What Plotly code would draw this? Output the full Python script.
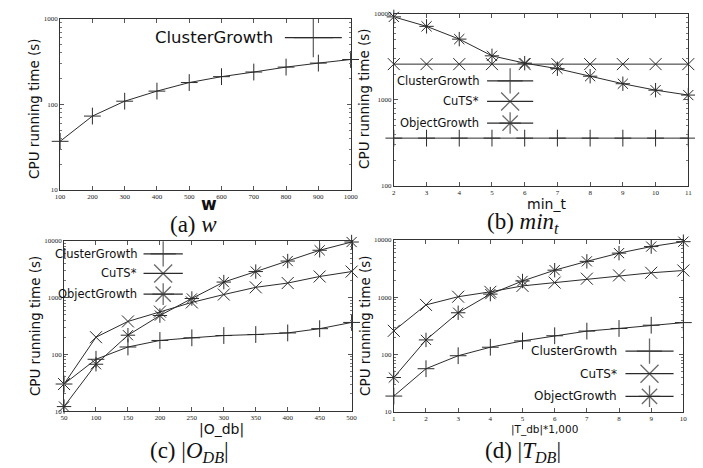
import plotly.graph_objects as go

W, H = 703, 468

# ---------------- data ----------------
w_vals = [100, 200, 300, 400, 500, 600, 700, 800, 900, 1000]
a_cluster = [37, 73, 109, 143, 180, 211, 239, 273, 304, 335]

mint_vals = [2, 3, 4, 5, 6, 7, 8, 9, 10, 11]
b_cluster = [360, 360, 360, 360, 360, 360, 360, 360, 360, 360]
b_cuts = [2610, 2610, 2610, 2610, 2610, 2610, 2610, 2610, 2610, 2610]
b_object = [9250, 7180, 5100, 3260, 2680, 2310, 1890, 1545, 1300, 1140]

odb_vals = [50, 100, 150, 200, 250, 300, 350, 400, 450, 500]
c_cluster = [30, 82, 135, 176, 196, 215, 224, 239, 284, 366]
c_cuts = [30, 201, 381, 568, 826, 1137, 1524, 1813, 2366, 2890]
c_object = [12, 67, 218, 484, 968, 1887, 2890, 4430, 6870, 9600]

tdb_vals = [1, 2, 3, 4, 5, 6, 7, 8, 9, 10]
d_cluster = [19, 57, 96, 135, 174, 214, 258, 287, 327, 363]
d_cuts = [261, 739, 1026, 1250, 1585, 1808, 2118, 2415, 2683, 2942]
d_object = [40, 181, 539, 1140, 1931, 2979, 4250, 5910, 7690, 9360]

series_names = ["ClusterGrowth", "CuTS*", "ObjectGrowth"]
x_titles = ["<b>w</b>", "min_t", "|O_db|", "|T_db|*1,000"]
y_title = "CPU running time (s)"
captions = ["(a) <i>w</i>", "(b) <i>min</i><sub><i>t</i></sub>",
            "(c) |<i>O</i><sub><i>DB</i></sub>|", "(d) |<i>T</i><sub><i>DB</i></sub>|"]

# ---------------- styling ----------------
INK = "#2b2b2b"
SYMS = {"ClusterGrowth": "cross-thin", "CuTS*": "x-thin", "ObjectGrowth": "asterisk-open"}
SANS = "DejaVu Sans, Verdana, sans-serif"
SERIF = "Liberation Serif, DejaVu Serif, serif"

# plot boxes in pixels: (x0, x1, ytop, ybottom)
boxes = [(48, 344, 7, 181), (388, 688, 2, 177), (52, 345, 233, 406), (388, 683, 232, 407)]
yranges = [(1, 3), (2, 4), (1, 4), (1, 4)]

fig = go.Figure()


def px_dom_x(a, b):
    return [a / W, b / W]


def px_dom_y(top, bot):
    return [1 - bot / H, 1 - top / H]


panels = [
    (w_vals, [("ClusterGrowth", a_cluster)], list(range(100, 1001, 100))),
    (mint_vals, [("ClusterGrowth", b_cluster), ("CuTS*", b_cuts), ("ObjectGrowth", b_object)], mint_vals),
    (odb_vals, [("ClusterGrowth", c_cluster), ("CuTS*", c_cuts), ("ObjectGrowth", c_object)], odb_vals),
    (tdb_vals, [("ClusterGrowth", d_cluster), ("CuTS*", d_cuts), ("ObjectGrowth", d_object)], tdb_vals),
]

minor_vals = [m * 10 ** e for e in range(0, 5) for m in range(2, 10)]

for i, (xs, sers, xt) in enumerate(panels):
    k = i + 1
    xa = "x" if k == 1 else f"x{k}"
    ya = "y" if k == 1 else f"y{k}"
    x0, x1, yt, yb = boxes[i]
    for name, ys in sers:
        fig.add_trace(go.Scatter(
            x=xs, y=ys, xaxis=xa, yaxis=ya, mode="lines+markers", showlegend=False,
            line=dict(color=INK, width=1),
            marker=dict(symbol=SYMS[name], size=12, color=INK, line=dict(color=INK, width=1)),
            cliponaxis=False,
        ))
    ax_common = dict(showgrid=False, zeroline=False, showline=True, linecolor="#333", linewidth=1,
                     mirror="ticks", ticks="inside", ticklen=4, tickcolor="#555",
                     tickfont=dict(family=SERIF, size=7, color="#222"))
    lo, hi = yranges[i]
    fig.layout[("xaxis" if k == 1 else f"xaxis{k}")] = dict(
        domain=px_dom_x(x0, x1), anchor=ya, range=[xs[0], xs[-1]], tickvals=xt, **ax_common)
    fig.layout[("yaxis" if k == 1 else f"yaxis{k}")] = dict(
        domain=px_dom_y(yt, yb), anchor=xa, type="log", range=[lo, hi],
        tickvals=[10 ** e for e in range(lo, hi + 1)],
        ticktext=[str(10 ** e) for e in range(lo, hi + 1)],
        minor=dict(ticks="inside", ticklen=2, tickcolor="#777",
                   tickvals=[v for v in minor_vals if 10 ** lo < v < 10 ** hi]),
        **ax_common)

# overlay pixel-coordinate axes for custom legends
fig.layout["xaxis5"] = dict(domain=[0, 1], range=[0, W], visible=False, fixedrange=True, anchor="y5")
fig.layout["yaxis5"] = dict(domain=[0, 1], range=[H, 0], visible=False, fixedrange=True, anchor="x5")

# legend spec: (text right edge, line x0, line x1, row ys, font size, marker size, names)
legends = [
    (267, 277, 335, [26], 16.5, 28, ["ClusterGrowth"], SANS),
    (477, 483, 530, [70, 91, 113], 11.5, 18, series_names, SANS),
    (128, 133, 173, [246, 266, 287], 11.5, 18, series_names, SANS),
    (617, 624, 673, [345, 368, 391], 12, 18, series_names, SANS),
]
annotations = []
for (tx, lx0, lx1, rows, fs, ms, names, fam) in legends:
    for yy, name in zip(rows, names):
        xm = (lx0 + lx1) / 2
        fig.add_trace(go.Scatter(
            x=[lx0, xm, lx1], y=[yy, yy, yy], xaxis="x5", yaxis="y5", mode="lines+markers",
            showlegend=False, line=dict(color=INK, width=1.3),
            marker=dict(symbol=SYMS[name], size=[0, ms, 0], color=INK, line=dict(color=INK, width=1.3)),
        ))
        annotations.append(dict(x=tx / W, y=1 - yy / H, xref="paper", yref="paper", text=name,
                                showarrow=False, xanchor="right", yanchor="middle",
                                font=dict(family=fam, size=fs, color="#111")))

# axis titles
ytitle_pos = [(22, 99), (358, 88), (22, 320), (358, 319)]
for (x, y) in ytitle_pos:
    annotations.append(dict(x=x / W, y=1 - y / H, xref="paper", yref="paper", text=y_title,
                            textangle=-90, showarrow=False, xanchor="center", yanchor="middle",
                            font=dict(family=SANS, size=13.5, color="#111")))
xtitle_pos = [(200, 195, 17), (544, 195, 14), (212, 425, 14), (542, 425, 10.5)]
for (x, y, fs), t in zip(xtitle_pos, x_titles):
    annotations.append(dict(x=x / W, y=1 - y / H, xref="paper", yref="paper", text=t,
                            showarrow=False, xanchor="center", yanchor="middle",
                            font=dict(family=SANS, size=fs, color="#111")))
cap_pos = [(184, 216), (520, 215), (180, 448), (520, 448)]
for (x, y), t in zip(cap_pos, captions):
    annotations.append(dict(x=x / W, y=1 - y / H, xref="paper", yref="paper", text=t,
                            showarrow=False, xanchor="center", yanchor="middle",
                            font=dict(family=SERIF, size=23, color="#111")))

fig.update_layout(width=W, height=H, margin=dict(l=0, r=0, t=0, b=0),
                  paper_bgcolor="white", plot_bgcolor="rgba(0,0,0,0)",
                  annotations=annotations, showlegend=False)

fig.write_html("out.html")
